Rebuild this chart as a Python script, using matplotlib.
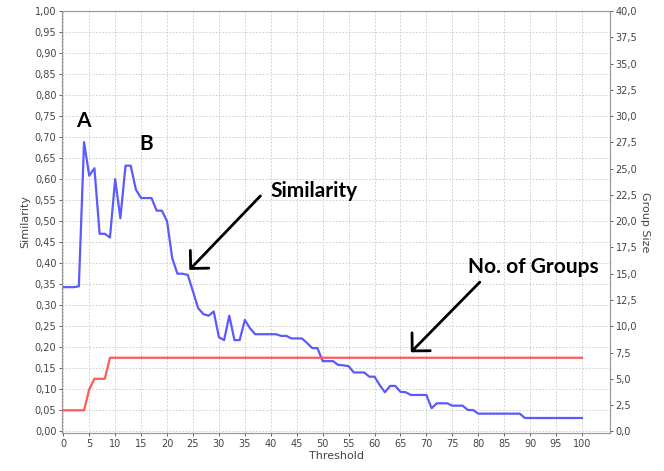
import matplotlib
matplotlib.use("Agg")
import matplotlib.pyplot as plt
import numpy as np

threshold = list(range(0, 101))
similarity = [0.343, 0.343, 0.343, 0.345, 0.688, 0.608, 0.626, 0.470, 0.470, 0.461,
              0.600, 0.507, 0.632, 0.632, 0.575, 0.555, 0.555, 0.555, 0.525, 0.525,
              0.500, 0.412, 0.375, 0.375, 0.372, 0.333, 0.293, 0.279, 0.275, 0.285,
              0.224, 0.217, 0.275, 0.217, 0.217, 0.265, 0.245, 0.231, 0.231, 0.231,
              0.231, 0.231, 0.227, 0.227, 0.221, 0.221, 0.221, 0.210, 0.198, 0.198,
              0.167, 0.167, 0.167, 0.158, 0.157, 0.155, 0.140, 0.140, 0.140, 0.130,
              0.130, 0.110, 0.093, 0.108, 0.108, 0.094, 0.093, 0.0865, 0.0865, 0.0865,
              0.0865, 0.055, 0.0667, 0.0667, 0.0667, 0.061, 0.061, 0.061, 0.0507, 0.0507,
              0.042, 0.042, 0.042, 0.042, 0.042, 0.042, 0.042, 0.042, 0.042, 0.0317,
              0.0317, 0.0317, 0.0317, 0.0317, 0.0317, 0.0317, 0.0317, 0.0317, 0.0317, 0.0317,
              0.0317]
group_size = [2, 2, 2, 2, 2, 4, 5, 5, 5] + [7] * 92

left_ticks = [i * 0.05 for i in range(21)]
right_ticks = [i * 2.5 for i in range(17)]
x_ticks = list(range(0, 101, 5))

fig = plt.figure(figsize=(6.64, 4.71), dpi=100)
W, H = 664, 471
ax = fig.add_axes([62 / W, 1 - 433 / H, (610 - 62) / W, (433 - 11) / H])
ax2 = ax.twinx()

grid_c = "#c8c8c8"
tick_c = "#444444"

ax.plot(threshold, similarity, color="#5a5aff", lw=1.6, zorder=3)
ax2.plot(threshold, group_size, color="#ff5a5a", lw=1.6, zorder=3)

ax.set_xlim(-0.25, 105.4)
ax.set_ylim(-0.004, 1.0)
ax2.set_ylim(-0.004 * 40, 40.0)

ax.set_xticks(x_ticks)
ax.set_xticklabels([str(t) for t in x_ticks])
ax.set_yticks(left_ticks)
ax.set_yticklabels([f"{t:.2f}".replace(".", ",") for t in left_ticks])
ax2.set_yticks(right_ticks)
ax2.set_yticklabels([f"{t:.1f}".replace(".", ",") for t in right_ticks])

for a in (ax, ax2):
    a.tick_params(labelsize=7, colors=tick_c, length=2, width=0.6, pad=2)
    for s in a.spines.values():
        s.set_color("#999999")
        s.set_linewidth(0.8)

ax.grid(True, color=grid_c, linestyle=(0, (2, 2)), linewidth=0.6)
ax.set_axisbelow(True)

ax.set_xlabel("Threshold", fontsize=8, color=tick_c, labelpad=2)
ax.set_ylabel("Similarity", fontsize=8, color=tick_c, labelpad=3)
ax2.set_ylabel("Group Size", fontsize=8, color=tick_c, rotation=270, labelpad=9)

afont = dict(fontweight="bold", color="black", family="Lato")
ax.text(3.8, 0.738, "A", fontsize=15, ha="center", va="center", **afont)
ax.text(15.9, 0.684, "B", fontsize=15, ha="center", va="center", **afont)
ax.text(48.4, 0.572, "Similarity", fontsize=15, ha="center", va="center", **afont)
ax.text(90.7, 0.391, "No. of Groups", fontsize=15, ha="center", va="center", **afont)

arrowprops = dict(arrowstyle="->,head_length=0.46,head_width=0.46", color="black",
                  lw=2, mutation_scale=20, shrinkA=0, shrinkB=0)
ax.annotate("", xy=(24.3, 0.384), xytext=(38.0, 0.560), arrowprops=arrowprops)
ax.annotate("", xy=(67.0, 0.188), xytext=(80.3, 0.355), arrowprops=arrowprops)

fig.savefig("out.png", dpi=100)
